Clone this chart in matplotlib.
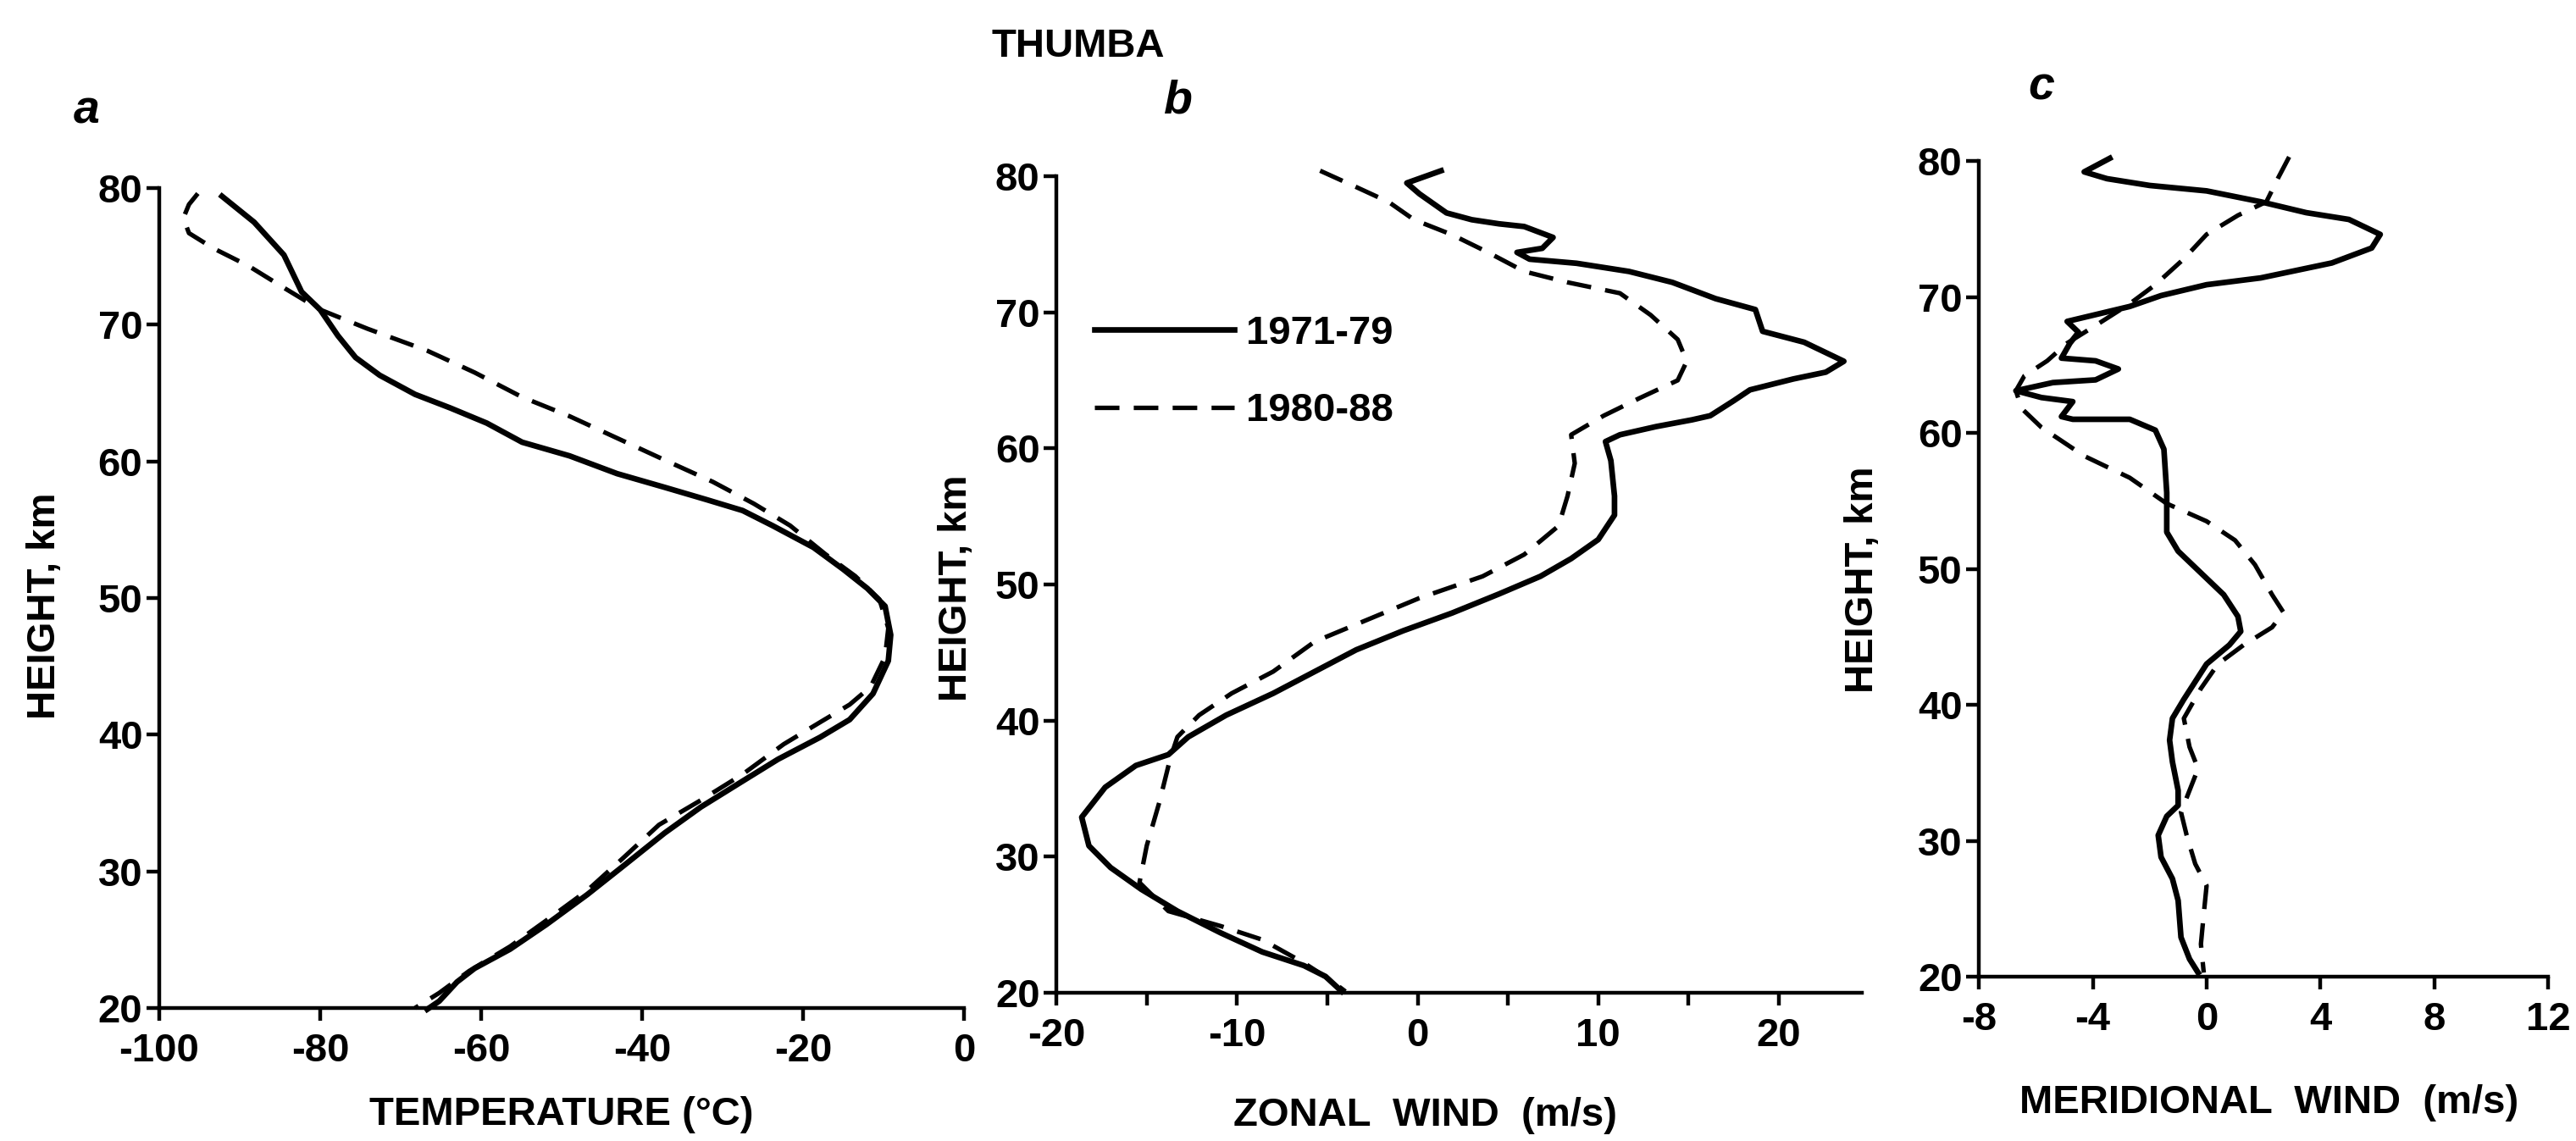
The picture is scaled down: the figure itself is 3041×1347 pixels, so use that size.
import matplotlib.pyplot as plt

# Fonts: bold sans, narrower than DejaVu to match the scanned lettering
plt.rcParams['font.family'] = ['Liberation Sans', 'DejaVu Sans']
plt.rcParams['font.weight'] = 'bold'
plt.rcParams['axes.labelweight'] = 'bold'

# Panel a: temperature profiles
temp_h_7179 = [79.4, 77.5, 75.1, 72.4, 71.1, 69.2, 67.6, 66.3, 64.9, 63.9, 62.8, 61.4,
               60.4, 59.1, 58.1, 57.2, 56.4, 55.3, 53.7, 52.1, 50.7, 49.4, 47.3, 45.4,
               43.0, 41.1, 39.8, 38.2, 36.6, 34.7, 32.8, 30.4, 28.3, 26.1, 24.3, 22.9,
               21.9, 20.5, 19.9]
temp_7179 = [-92.2, -88.2, -84.5, -82.3, -80.0, -77.8, -75.6, -72.6, -68.2, -63.8, -59.3, -54.9,
             -49.0, -43.1, -37.2, -32.0, -27.5, -23.8, -18.7, -15.0, -12.0, -9.8, -9.1, -9.4,
             -11.3, -14.2, -17.9, -23.1, -27.5, -32.7, -37.2, -42.3, -46.8, -51.9, -56.4, -60.8,
             -63.0, -65.2, -66.7]
temp_h_8088 = [79.6, 78.8, 77.8, 76.7, 75.6, 74.3, 72.7, 71.1, 69.7, 68.1, 66.5, 64.7,
               63.3, 61.7, 60.1, 58.5, 56.9, 55.3, 53.2, 51.6, 49.9, 47.8, 45.7, 43.5,
               42.2, 40.9, 39.3, 37.1, 35.2, 33.4, 31.0, 28.6, 26.4, 24.5, 22.7, 21.1, 20.0]
temp_8088 = [-95.2, -96.3, -97.0, -96.3, -93.3, -88.9, -84.5, -80.0, -74.1, -66.7, -60.8, -54.9,
             -49.0, -43.1, -37.2, -31.2, -26.1, -21.6, -17.2, -13.5, -10.5, -9.4, -9.8, -11.6,
             -14.2, -17.9, -22.4, -27.5, -32.7, -37.9, -42.3, -46.8, -51.9, -56.4, -61.5, -65.2, -68.2]

# Panel b: zonal wind profiles
zonal_h_7179 = [80.4, 79.5, 78.7, 77.3, 76.8, 76.5, 76.3, 75.5, 74.7, 74.4, 73.9, 73.6,
                73.0, 72.2, 71.0, 70.2, 68.6, 67.8, 66.4, 65.6, 65.1, 64.3, 63.5, 62.4,
                62.1, 61.6, 61.0, 60.5, 59.1, 56.5, 55.1, 53.3, 51.9, 50.6, 49.3, 47.9,
                46.6, 45.2, 43.6, 42.0, 40.4, 38.8, 37.5, 36.7, 35.1, 32.9, 30.8, 29.2,
                27.6, 26.0, 24.4, 23.0, 22.0, 21.2, 20.1]
zonal_7179 = [1.3, -0.6, 0.1, 1.6, 3.0, 4.5, 5.9, 7.5, 6.9, 5.5, 6.2, 8.8,
              11.7, 14.1, 16.5, 18.7, 19.1, 21.4, 23.6, 22.6, 20.8, 18.4, 17.5, 16.2,
              15.2, 13.2, 11.2, 10.4, 10.7, 10.9, 10.9, 10.0, 8.5, 6.8, 4.5, 1.9,
              -0.8, -3.4, -5.7, -8.0, -10.6, -12.7, -13.8, -15.6, -17.3, -18.6, -18.2, -17.0,
              -15.3, -13.3, -10.9, -8.6, -6.3, -5.1, -4.2]
zonal_h_8088 = [80.4, 79.2, 78.1, 76.8, 75.7, 74.4, 73.0, 72.2, 71.4, 69.8, 68.0, 66.4,
                65.0, 63.7, 62.4, 61.0, 58.9, 56.5, 54.3, 52.2, 50.6, 49.0, 47.4, 45.8,
                43.6, 42.0, 40.4, 38.8, 37.2, 34.0, 30.8, 28.1, 26.0, 24.9, 23.9, 22.2,
                20.9, 20.1]
zonal_8088 = [-5.4, -3.4, -1.6, -0.2, 1.9, 3.9, 5.9, 8.3, 11.2, 12.9, 14.4, 14.9,
              14.4, 12.3, 10.3, 8.5, 8.7, 8.3, 7.8, 5.9, 3.6, 0.1, -2.8, -5.7,
              -8.0, -10.3, -12.1, -13.3, -13.7, -14.3, -15.0, -15.4, -13.8, -10.9, -8.6, -6.3,
              -4.8, -4.0]

# Panel c: meridional wind profiles
merid_h_7179 = [80.2, 79.2, 78.7, 78.2, 77.8, 77.0, 76.2, 75.7, 74.6, 73.6, 72.5, 71.4,
                70.9, 70.1, 69.3, 68.7, 68.2, 67.4, 66.6, 65.5, 65.3, 64.7, 63.9, 63.7,
                63.1, 62.6, 62.3, 61.2, 61.0, 61.0, 60.2, 58.8, 55.6, 52.7, 51.3, 49.7,
                48.1, 46.5, 45.4, 44.4, 43.0, 41.7, 40.4, 39.0, 37.4, 35.8, 33.7, 32.6,
                31.8, 30.4, 28.8, 27.2, 25.6, 22.9, 21.3, 20.3]
merid_7179 = [-3.4, -4.3, -3.5, -2.0, 0.0, 1.9, 3.5, 5.0, 6.1, 5.8, 4.4, 1.9,
              0.0, -1.6, -2.7, -3.9, -4.9, -4.5, -4.8, -5.1, -3.9, -3.1, -3.9, -5.4,
              -6.7, -5.8, -4.7, -5.1, -4.7, -2.7, -1.8, -1.5, -1.4, -1.4, -1.0, -0.2,
              0.6, 1.1, 1.2, 0.8, 0.0, -0.4, -0.8, -1.2, -1.3, -1.2, -1.0, -1.0,
              -1.4, -1.7, -1.6, -1.2, -1.0, -0.9, -0.6, -0.3]
merid_h_8088 = [80.3, 78.7, 77.0, 76.0, 74.6, 72.8, 70.9, 69.5, 67.9, 66.6, 65.3, 64.2,
                63.1, 61.8, 60.4, 58.3, 56.7, 54.8, 53.5, 52.1, 50.3, 48.1, 46.8, 45.7,
                44.4, 43.0, 41.2, 39.0, 36.9, 35.3, 33.7, 32.1, 30.4, 28.3, 26.7, 24.6,
                22.4, 20.3]
merid_8088 = [2.9, 2.5, 2.1, 1.1, 0.0, -0.8, -1.8, -2.7, -3.9, -4.9, -5.6, -6.4,
              -6.7, -6.5, -5.8, -4.3, -2.7, -1.4, 0.0, 1.0, 1.7, 2.3, 2.7, 2.3,
              1.3, 0.4, -0.2, -0.8, -0.6, -0.3, -0.6, -0.9, -0.7, -0.4, 0.0, -0.1,
              -0.2, -0.1]

height_ticks = [20, 30, 40, 50, 60, 70, 80]
labels = ['1971-79', '1980-88']

FS = 34
DASH = (0, (5.5, 3.2))


def setup_axis(ax, xlim, xticks, xticklabels, xlabel, xlab_pos, ylab_pos):
    ax.set_xlim(*xlim)
    ax.set_ylim(20, 80)
    ax.set_xticks(xticks)
    ax.set_xticklabels(xticklabels)
    ax.set_yticks(height_ticks)
    for side in ['top', 'right']:
        ax.spines[side].set_visible(False)
    for side in ['left', 'bottom']:
        ax.spines[side].set_linewidth(3.2)
    ax.tick_params(axis='both', direction='out', length=11, width=3.2, labelsize=FS)
    ax.tick_params(axis='x', pad=10)
    ax.tick_params(axis='y', pad=3)
    ax.set_xlabel(xlabel, fontsize=FS)
    ax.set_ylabel('HEIGHT, km', fontsize=FS)
    ax.xaxis.set_label_coords(*xlab_pos)
    ax.yaxis.set_label_coords(*ylab_pos)
    ax.xaxis.label.set_va('center')
    ax.yaxis.label.set_va('center')


def draw_pair(ax, h1, v1, h2, v2):
    ax.plot(v1, h1, color='black', lw=4.8, solid_joinstyle='round', clip_on=False, label=labels[0])
    ax.plot(v2, h2, color='black', lw=3.8, linestyle=DASH, clip_on=False, label=labels[1])


fig = plt.figure(figsize=(30.41, 13.47), dpi=100)

ax_a = fig.add_axes([0.0618, 0.1166, 0.3124, 0.7186])
ax_b = fig.add_axes([0.4101, 0.1299, 0.3127, 0.7157])
ax_c = fig.add_axes([0.7682, 0.1440, 0.2210, 0.7149])

draw_pair(ax_a, temp_h_7179, temp_7179, temp_h_8088, temp_8088)
setup_axis(ax_a, (-100, 0), [-100, -80, -60, -40, -20, 0],
           ['-100', '-80', '-60', '-40', '-20', '0'],
           'TEMPERATURE (°C)', (0.50, -0.13), (-0.142, 0.49))

draw_pair(ax_b, zonal_h_7179, zonal_7179, zonal_h_8088, zonal_8088)
setup_axis(ax_b, (-20, 24.6), [-20, -15, -10, -5, 0, 5, 10, 15, 20],
           ['-20', '', '-10', '', '0', '', '10', '', '20'],
           'ZONAL  WIND  (m/s)', (0.458, -0.15), (-0.124, 0.496))
ax_b.legend(loc='upper left', bbox_to_anchor=(0.047, 0.83), frameon=False,
            fontsize=FS, handlelength=3.5, handletextpad=0.3, labelspacing=1.0,
            borderpad=0, borderaxespad=0)

draw_pair(ax_c, merid_h_7179, merid_7179, merid_h_8088, merid_8088)
setup_axis(ax_c, (-8, 12), [-8, -4, 0, 4, 8, 12],
           ['-8', '-4', '0', '4', '8', '12'],
           'MERIDIONAL  WIND  (m/s)', (0.51, -0.155), (-0.204, 0.487))

# Title and panel letters
fig.text(1273 / 3041, 1 - 55 / 1347, 'THUMBA', fontsize=FS, ha='center', va='center')
fig.text(102 / 3041, 1 - 132 / 1347, 'a', fontsize=FS + 6, style='italic', ha='center', va='center')
fig.text(1390 / 3041, 1 - 120 / 1347, 'b', fontsize=FS + 6, style='italic', ha='center', va='center')
fig.text(2410 / 3041, 1 - 103 / 1347, 'c', fontsize=FS + 6, style='italic', ha='center', va='center')

fig.savefig('out.png', dpi=100, facecolor='white')
